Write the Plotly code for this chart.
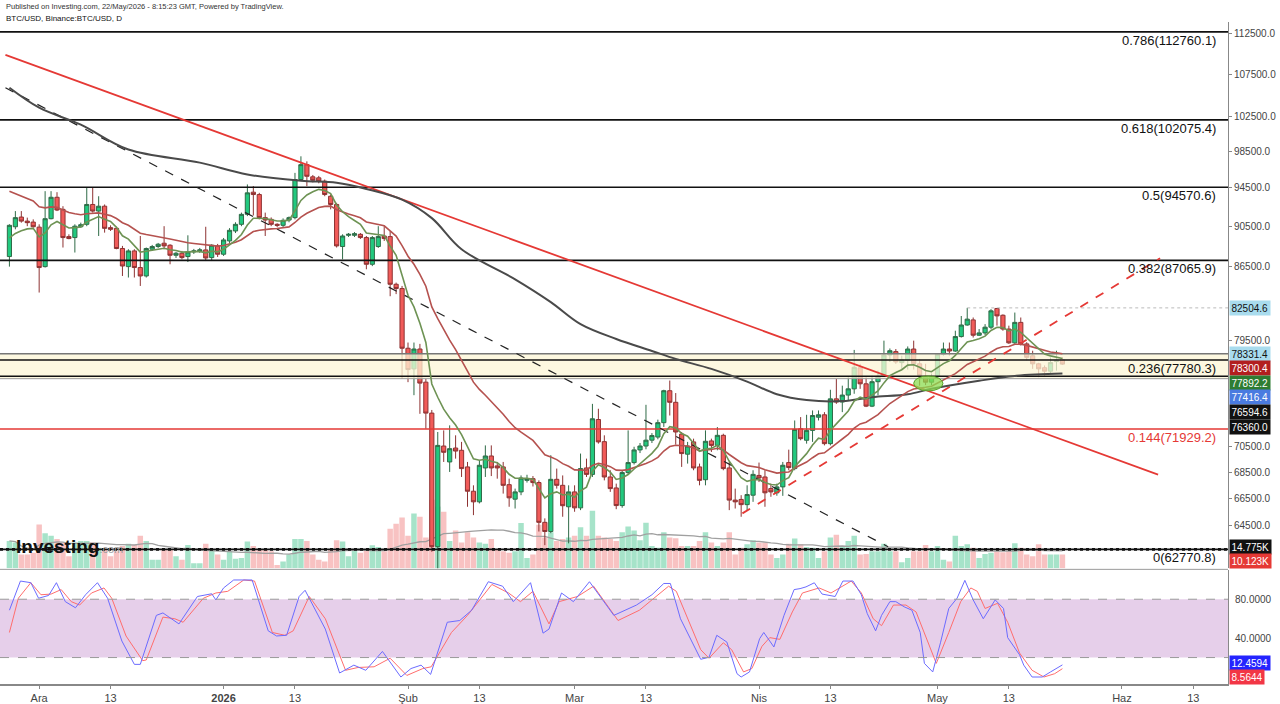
import math
import pandas as pd
import plotly.graph_objects as go

# BTC/USD daily candles, 26 Nov 2025 - 22 May 2026
dates = pd.date_range('2025-11-26', '2026-05-22', freq='D')

opens = [87440, 90440, 91440, 91020, 90920, 90400, 86450, 91270, 93510, 92240,
         89440, 89340, 90440, 90690, 92750, 92060, 92570, 90350, 90280, 88240,
         86450, 88000, 86360, 85540, 88170, 88440, 88770, 88570, 87570, 87770,
         87440, 87900, 88000, 88100, 87340, 88500, 87670, 89000, 90010, 90690,
         91720, 94050, 93800, 91380, 91200, 90690, 90590, 91130, 91380, 95410,
         97030, 95700, 95590, 95230, 93620, 92750, 88440, 89570, 89570, 89670,
         89340, 86680, 88440, 89500, 89440, 84740, 84330, 78820, 77000, 78750,
         75850, 73240, 62960, 70560, 69300, 70400, 70220, 68910, 67040, 66240,
         68830, 69770, 68990, 68910, 67540, 66440, 66990, 67870, 68000, 67700,
         64720, 64050, 67950, 67490, 65870, 66990, 65790, 68830, 68330, 72710,
         70910, 68130, 67290, 65960, 68470, 69250, 70250, 70560, 71030, 71280,
         72450, 75120, 74140, 71520, 69910, 70890, 68910, 67920, 70970, 70610,
         71420, 68830, 66370, 66420, 66030, 66740, 68250, 68130, 67240, 66920,
         67370, 69250, 68780, 71950, 71020, 71820, 72900, 73100, 70750, 74430,
         74160, 74750, 75280, 77090, 75710, 73820, 75890, 76360, 78220, 78520,
         77550, 77740, 78750, 77440, 76360, 75850, 76360, 78290, 78750, 78570,
         79870, 80920, 81390, 79990, 80200, 80720, 82450, 81820, 80550, 79300,
         81160, 79210, 78150, 77440, 77100, 76800, 77640, 77800]
highs = [90700, 92060, 92060, 91380, 91200, 90690, 94160, 94160, 94050, 92570,
         89670, 90690, 90860, 94520, 94520, 93620, 92750, 90590, 90440, 88500,
         88170, 88170, 89500, 88340, 88600, 88800, 90500, 88670, 87900, 88000,
         89570, 88200, 88300, 90440, 88670, 88700, 89300, 90300, 90900, 91900,
         94880, 94700, 93980, 91900, 91400, 90800, 91300, 91500, 96130, 97950,
         97390, 95900, 95800, 95410, 93800, 92920, 89670, 89800, 89900, 89800,
         89500, 89500, 90500, 90500, 90010, 84900, 84580, 79330, 79330, 79210,
         76130, 73500, 71690, 71820, 72230, 71420, 70890, 69300, 67490, 69430,
         70610, 70610, 69300, 69300, 68000, 67240, 68250, 68300, 68200, 67870,
         65010, 69830, 68780, 68250, 67490, 67490, 69960, 69560, 74010, 73600,
         71420, 68650, 67620, 68650, 71820, 70500, 70800, 73930, 71600, 72700,
         75200, 75990, 74920, 71690, 70890, 71150, 69170, 71820, 71150, 72090,
         71550, 69300, 67240, 66740, 67490, 68650, 69250, 68650, 67620, 67620,
         69300, 70270, 72630, 72910, 73100, 73460, 73460, 73320, 75200, 76130,
         75550, 76270, 78670, 77440, 76270, 76420, 76850, 79500, 78800, 78750,
         78160, 78980, 79500, 77870, 77440, 76600, 78320, 79330, 79330, 80400,
         81750, 82504.6, 81610, 80550, 81000, 82390, 82500, 81900, 80860, 82070,
         81610, 79360, 78600, 77530, 77300, 78010, 78600, 78010]
lows = [86450, 90180, 90860, 90500, 90350, 83950, 86360, 91200, 92060, 88340,
        89170, 87840, 90350, 90500, 91900, 89500, 89840, 90010, 88170, 85540,
        85390, 85390, 84580, 85390, 88000, 88300, 88170, 86680, 87300, 87170,
        86900, 87700, 87800, 87000, 87000, 87400, 87500, 88800, 89800, 90500,
        91540, 91600, 91200, 89500, 90500, 90400, 90400, 90900, 91200, 95300,
        94700, 95100, 95000, 93620, 92240, 88340, 87170, 89400, 89400, 89200,
        86190, 86500, 88300, 89000, 83600, 83800, 76130, 75850, 74740, 73180,
        71950, 62600, 60100, 69300, 68520, 69560, 68130, 65870, 65250, 66120,
        68130, 68200, 68000, 66860, 65870, 65740, 66740, 67700, 67400, 64050,
        63070, 63930, 67240, 65130, 63200, 65500, 65620, 68130, 68130, 70750,
        67870, 66990, 65690, 65800, 68300, 69100, 70000, 70300, 70800, 71100,
        72100, 73040, 70670, 68910, 69170, 68650, 67490, 67490, 70090, 70220,
        68650, 65620, 65740, 65130, 65620, 66240, 67740, 65870, 66620, 66700,
        66690, 68650, 68650, 71020, 70750, 70890, 72630, 70610, 70610, 74010,
        73320, 74290, 74860, 75280, 73740, 73740, 74740, 76330, 77600, 77440,
        76940, 76940, 76940, 75550, 75600, 75600, 76130, 78160, 78160, 78500,
        79780, 80860, 79780, 79930, 80000, 80550, 80860, 80400, 79210, 79210,
        79060, 77750, 77000, 76270, 76360, 76590, 76850, 77350]
closes = [90590, 91380, 91020, 90860, 90440, 86360, 91270, 93510, 92170, 89340,
          89240, 90500, 90650, 92750, 92060, 92570, 90280, 90180, 88240, 86510,
          88000, 86360, 85540, 88240, 88440, 88670, 88500, 87570, 87770, 87340,
          87900, 88000, 88100, 87300, 88570, 87670, 89100, 90080, 90690, 91720,
          93980, 93800, 91380, 91130, 90690, 90590, 91100, 91380, 95410, 97030,
          95760, 95330, 95230, 93800, 92750, 88500, 89500, 89670, 89740, 89340,
          86680, 89340, 89440, 89240, 84740, 84330, 78820, 76940, 78750, 75770,
          73240, 62960, 70610, 70060, 70350, 70160, 68780, 67040, 66240, 69040,
          69770, 68830, 68830, 67490, 66540, 66990, 68050, 68000, 67700, 64720,
          64050, 67950, 67490, 65950, 66990, 65790, 68780, 68330, 72770, 70890,
          68130, 67240, 65960, 68470, 69250, 70250, 70560, 71030, 71400, 72450,
          75120, 74140, 71690, 69960, 70560, 68830, 67870, 70940, 70610, 71420,
          68780, 66370, 66240, 66030, 66790, 68330, 68050, 66920, 66990, 67370,
          69040, 68860, 71900, 71150, 71820, 73040, 73100, 70750, 74430, 74160,
          74750, 75280, 77140, 75710, 73820, 75890, 76360, 78220, 78600, 77610,
          77790, 78750, 77440, 76420, 75850, 76360, 78290, 78750, 78570, 79870,
          80920, 81460, 79990, 80200, 80720, 82230, 81760, 80550, 79300, 81160,
          79210, 78010, 77440, 77000, 76800, 77550, 77760, 77416.4]
# volume, thousands
volumes = [20, 18.8, 10, 10, 11.3, 32, 25.5, 23.8, 21.3, 18.8,
           8.8, 18.8, 20, 20, 18.8, 15, 13.8, 8.8, 12.5, 16.3,
           18, 17, 23.8, 20, 6.3, 6.3, 13.8, 13.8, 8.8, 6.3,
           17, 3.8, 3.8, 18, 13, 10, 6.3, 12.5, 7, 7.5,
           19.5, 16.3, 13.8, 13.8, 12.5, 2.5, 5, 10, 21.3, 21.3,
           20, 10, 6.3, 5, 13.8, 20.5, 19.5, 8.8, 13.8, 11.3,
           13.8, 16.8, 15.5, 12.5, 28.8, 32.5, 37, 23.8, 40, 37.5,
           22.5, 50, 45, 41.3, 20, 27.5, 18.8, 26.3, 22.5, 18.8,
           18, 21.3, 13.8, 12.5, 11.3, 12.5, 33, 7.5, 10, 31.8,
           22.5, 26.3, 20, 21.3, 22.5, 23.8, 30, 23.8, 42, 23.8,
           22.5, 21.3, 20, 26.3, 30.5, 27.5, 20.5, 33.3, 16.3, 15,
           26.3, 22.5, 22, 16.3, 16.3, 16.3, 20, 26.3, 18.8, 16.3,
           18.8, 26.3, 10, 15, 17.5, 20.5, 18.8, 18.8, 10, 7.5,
           10, 18, 21.8, 17.5, 15.5, 15, 7.5, 12.5, 22.5, 24.5,
           16.3, 20, 23.8, 10, 10.5, 12.5, 12.5, 18, 12.5, 12.5,
           4.5, 7.5, 12.5, 12.5, 17, 12.5, 16.3, 6.3, 5, 23.8,
           16.3, 17.5, 15, 7.5, 10.5, 11.3, 12.5, 11.8, 12.5, 18.3,
           15, 10, 8.8, 17.5, 10, 10, 10, 10.123]
assert len(dates) == len(opens) == len(highs) == len(lows) == len(closes) == len(volumes)

# stochastic RSI turning points (days after 26 Nov 2025, value)
stoch_k_day = [0, 1.85, 3.6, 4.9, 6.6, 7.9, 9.4, 11.1, 12.8, 14.8, 16.5, 18.9, 21, 22,
               24.7, 25.8, 28.5, 31.6, 34, 34.7, 36, 37.7, 40.8, 43.5, 44.9, 46.6, 48.7,
               49.7, 53.1, 55.5, 57.9, 59.9, 62.7, 65.8, 67.5, 69.2, 70.8, 73.6, 75.7,
               77.7, 80.5, 82.9, 84.7, 87.6, 89.7, 90.7, 92.8, 94.8, 97.5, 101.6, 105.4,
               108, 110, 111.1, 112.8, 114.8, 116.2, 117.6, 118.9, 120.6, 122.3, 123,
               124.4, 126.1, 126.8, 128.5, 130.2, 131.9, 132.9, 133.9, 135.3, 136.6,
               138.8, 140.1, 141.8, 143.2, 144.2, 145.6, 146.6, 148, 149, 150.4, 151.7,
               153.1, 153.8, 155.2, 156.5, 157.9, 159.3, 160.6, 162, 163.7, 165.7, 167.1,
               167.8, 169.8, 170.5, 171.9, 173.6, 175, 177]
stoch_k_val = [68.7, 98.7, 97, 81, 83.9, 97, 77.5, 71.2, 84.6, 97, 81, 37, 13, 13,
               63.4, 65.9, 54.6, 82.8, 85.6, 79.3, 91.6, 99.8, 99.8, 47.5, 42.2, 42.9, 82.8,
               89.2, 49.3, 4.1, 12.2, 6.9, 26.3, 0, 8.7, 12.2, 2.7, 56.3, 58.1,
               68.7, 98, 93.4, 77.5, 97, 45.1, 49.3, 86.4, 77.5, 98, 63.4, 74,
               84.6, 96.2, 96.2, 59.9, 35.2, 18.2, 20.3, 42.9, 35.9, 3.4, 0,
               5.2, 39.4, 45.8, 30.9, 63.4, 89.9, 90.9, 92.7, 96.9, 85.3,
               82.8, 98.7, 98.7, 84.6, 65.2, 47.5, 63.4, 77.5, 77.5, 72.2, 68.7,
               45.8, 14, 5.2, 35.2, 70.5, 81.1, 99.4, 79.3, 59.9, 79.3, 70.5,
               40.5, 22.8, 12.2, 0, 0, 5.2, 12.4594]
stoch_d_day = [0, 1.5, 3.6, 5.3, 7, 8.7, 10.4, 11.8, 13.8, 15.9, 17.2, 19.6, 22.4, 23,
               25.8, 27.8, 29.2, 32.6, 34.7, 36.7, 39.4, 41.2, 44.2, 46.3, 47.7, 50.4,
               53.1, 56.5, 58.6, 61.3, 64, 66.8, 69.5, 70.9, 74.3, 77, 81.1, 83.9, 85.9,
               88, 90.7, 92.4, 95.5, 98.2, 102.3, 105.9, 108, 110.8, 112.1, 114.1, 116.2,
               117.6, 120, 121.4, 123.4, 124.8, 126.5, 127.8, 129.5, 131.6, 133.3, 136.1,
               138.1, 141.5, 143.2, 145.2, 146.6, 148.6, 150.7, 152.4, 154.4, 155.8,
               157.9, 159.9, 161.6, 162.7, 164, 166.1, 167.8, 169.8, 171.9, 173.9, 175.7,
               177]
stoch_d_val = [45.8, 81, 97, 84.6, 85.3, 89.9, 77.5, 74, 86.4, 91.6, 81, 42.2, 16.8, 17.5,
               61.6, 59.9, 56.3, 81, 86.4, 88.1, 99.8, 98.7, 45.8, 42.9, 47.5, 82.8,
               59.9, 6.9, 9.8, 10.5, 19.3, 1.6, 8.7, 10.5, 45.8, 63.4, 95.2, 86.4, 77.5,
               88.1, 54.6, 77.5, 82.8, 93.4, 58.1, 68.7, 79.3, 93.4, 88.1, 58.1, 28.1,
               19.3, 35.2, 28.1, 5.2, 8.7, 31.6, 40.5, 38.7, 66.9, 86.4, 91.6,
               86.4, 98.7, 86.4, 59.9, 52.8, 74, 74, 66.9, 35.2, 14,
               45.8, 77.5, 91.6, 88.1, 70.5, 75.8, 56.3, 24.6, 6.9, 0, 3.4,
               8.5644]

fast_ma_start = 89300
slow_ma_start = 94160
long_ma_dates = ['2025-11-26', '2025-12-01', '2025-12-08', '2025-12-16', '2025-12-28',
                 '2026-01-05', '2026-01-14', '2026-01-20', '2026-01-25', '2026-01-31',
                 '2026-02-05', '2026-02-10', '2026-02-19', '2026-02-25', '2026-03-02',
                 '2026-03-08', '2026-03-14', '2026-03-18', '2026-03-24', '2026-03-30',
                 '2026-04-04', '2026-04-09', '2026-04-15', '2026-04-20', '2026-04-26',
                 '2026-04-30', '2026-05-08', '2026-05-14', '2026-05-22']
long_ma_values = [105850, 103490, 101520, 98700, 97250, 95950, 95280, 95060, 94400, 93260,
                  91330, 88170, 85220, 83050, 81000, 79650, 78580, 77870, 77000, 75900,
                  74820, 74330, 74240, 74570, 74820, 75280, 75970, 76390, 76594.6]

# fibonacci levels
fib_ratios = ['0.786', '0.618', '0.5', '0.382', '0.236', '0.144', '0']
fib_prices = [112760.1, 102075.4, 94570.6, 87065.9, 77780.3, 71929.2, 62770.8]

# support zone
zone_top = 78331.4
zone_bottom = 76150
zone_support = 76360.0

# trend lines
red_line_dates = ['2025-11-25 08:00', '2026-06-07 02:00']
red_line_prices = [109860, 68310]
red_dash_dates = ['2026-03-29 05:00', '2026-06-07 10:00']
red_dash_prices = [65380, 87270]
black_dash_dates = ['2025-11-25 08:00', '2026-04-22 17:00']
black_dash_prices = [105850, 62950]
peak_date = '2026-05-06'
peak_price = 82504.6

# right-hand price tags
tag_texts = ['82504.6', '78331.4', '78300.4', '77892.2', '77416.4', '76594.6', '76360.0']
tag_bg = ['#a9dcee', '#a9dcee', '#b21f1f', '#2e7d32', '#4a7be0', '#111111', '#111111']
tag_fg = ['#111', '#111', 'white', 'white', 'white', 'white', 'white']

price_ticks = [64500, 66500, 68500, 70500, 79500, 86500, 90500, 94500, 98500, 102500, 107500, 112500]
date_ticks = ['2025-12-01', '2025-12-13', '2026-01-01', '2026-01-13', '2026-02-01', '2026-02-13',
              '2026-03-01', '2026-03-13', '2026-04-01', '2026-04-13', '2026-05-01', '2026-05-13',
              '2026-06-01', '2026-06-13']
date_labels = ['Ara', '13', '<b>2026</b>', '13', 'Şub', '13', 'Mar', '13', 'Nis', '13',
               'May', '13', 'Haz', '13']

FONT = 'Liberation Sans'
TOP, BOTTOM = 22, 686


def py(ypx):
    return (BOTTOM - ypx) / (BOTTOM - TOP)


def ema(values, n, start):
    a = 2 / (n + 1)
    out = [start]
    for v in values[1:]:
        out.append(a * v + (1 - a) * out[-1])
    return out


fast_ma = ema(closes, 8, fast_ma_start)
slow_ma = ema(closes, 21, slow_ma_start)

vol_ma = pd.Series(volumes).rolling(20, min_periods=1).mean()

start = pd.Timestamp('2025-11-26')
stoch_k_x = [start + pd.to_timedelta(d, unit='D') for d in stoch_k_day]
stoch_d_x = [start + pd.to_timedelta(d, unit='D') for d in stoch_d_day]

x_left = '2025-11-24 10:00'
x_right = '2026-06-18 20:00'

up = [c >= o for o, c in zip(opens, closes)]
vol_colors = ['#a6e3c9' if u else '#f8c2c2' for u in up]

fig = go.Figure()

# volume (base axis, drawn under price)
fig.add_trace(go.Bar(x=dates, y=volumes, marker_color=vol_colors, marker_line_width=0,
                     width=86400000 * 0.92, yaxis='y', xaxis='x'))
fig.add_trace(go.Scatter(x=dates, y=vol_ma, mode='lines', line=dict(color='#a0a0a0', width=1.3),
                         yaxis='y', xaxis='x'))

# support zone
fig.add_trace(go.Scatter(x=[x_left, x_right], y=[zone_bottom, zone_bottom], mode='lines',
                         line=dict(color='#9a9a9a', width=1), yaxis='y2', xaxis='x'))
fig.add_trace(go.Scatter(x=[x_left, x_right], y=[zone_top, zone_top], mode='lines',
                         line=dict(color='#777777', width=1.5), fill='tonexty',
                         fillcolor='rgba(252,246,214,0.75)', yaxis='y2', xaxis='x'))
fig.add_trace(go.Scatter(x=[x_left, x_right], y=[zone_support, zone_support], mode='lines',
                         line=dict(color='#111111', width=1.6), yaxis='y2', xaxis='x'))

# fibonacci lines
for r, p in zip(fib_ratios, fib_prices):
    color = '#e53935' if r == '0.144' else '#111111'
    fig.add_trace(go.Scatter(x=[x_left, x_right], y=[p, p], mode='lines',
                             line=dict(color=color, width=1.6), yaxis='y2', xaxis='x'))
fig.add_trace(go.Scatter(x=[x_left, x_right], y=[fib_prices[-1], fib_prices[-1]], mode='lines',
                         line=dict(color='#111111', width=2.6, dash='dot'), yaxis='y2', xaxis='x'))

fig.add_trace(go.Scatter(x=[peak_date, x_right], y=[peak_price, peak_price], mode='lines',
                         line=dict(color='#bbbbbb', width=1, dash='dot'), yaxis='y2', xaxis='x'))

# trend lines
fig.add_trace(go.Scatter(x=black_dash_dates, y=black_dash_prices, mode='lines',
                         line=dict(color='#222222', width=1.2, dash='dash'), yaxis='y2', xaxis='x'))
fig.add_trace(go.Scatter(x=red_line_dates, y=red_line_prices, mode='lines',
                         line=dict(color='#e53935', width=1.8), yaxis='y2', xaxis='x'))
fig.add_trace(go.Scatter(x=red_dash_dates, y=red_dash_prices, mode='lines',
                         line=dict(color='#e53935', width=1.8, dash='dash'), yaxis='y2', xaxis='x'))

# moving averages
fig.add_trace(go.Scatter(x=long_ma_dates, y=long_ma_values, mode='lines',
                         line=dict(color='#4a4a4a', width=2, shape='spline'), yaxis='y2', xaxis='x'))
fig.add_trace(go.Scatter(x=dates, y=slow_ma, mode='lines',
                         line=dict(color='#b5524f', width=1.6), yaxis='y2', xaxis='x'))
fig.add_trace(go.Scatter(x=dates, y=fast_ma, mode='lines',
                         line=dict(color='#6e9354', width=1.6), yaxis='y2', xaxis='x'))

# candles
fig.add_trace(go.Candlestick(
    x=dates, open=opens, high=highs, low=lows, close=closes, yaxis='y2', xaxis='x',
    increasing=dict(line=dict(color='#2f6b47', width=1), fillcolor='#22c97f'),
    decreasing=dict(line=dict(color='#8e3232', width=1), fillcolor='#f15b59'),
    whiskerwidth=0))

# stochastic RSI
fig.add_trace(go.Scatter(x=stoch_d_x, y=stoch_d_val, mode='lines', line=dict(color='#ff6d6d', width=1),
                         yaxis='y3', xaxis='x2'))
fig.add_trace(go.Scatter(x=stoch_k_x, y=stoch_k_val, mode='lines', line=dict(color='#6b6bff', width=1),
                         yaxis='y3', xaxis='x2'))

shapes = [
    dict(type='rect', xref='paper', yref='y3', x0=0, x1=1, y0=20, y1=80,
         fillcolor='rgba(190,130,200,0.38)', line=dict(width=0), layer='below'),
    dict(type='line', xref='paper', yref='y3', x0=0, x1=1, y0=80, y1=80,
         line=dict(color='#9a9a9a', width=1, dash='dash')),
    dict(type='line', xref='paper', yref='y3', x0=0, x1=1, y0=20, y1=20,
         line=dict(color='#9a9a9a', width=1, dash='dash')),
    dict(type='line', xref='paper', yref='paper', x0=0, x1=1, y0=py(571), y1=py(571),
         line=dict(color='#9a9a9a', width=1)),
    # highlighted bounce
    dict(type='circle', xref='x', yref='paper', x0='2026-04-27 00:00', x1='2026-05-01 22:00',
         y0=py(392), y1=py(377), fillcolor='rgba(140,220,80,0.75)', line=dict(color='#5aa02c', width=1)),
]

annotations = [
    dict(text='Published on Investing.com, 22/May/2026 - 8:15:23 GMT, Powered by TradingView.',
         xref='paper', yref='paper', x=0.003, y=py(6), xanchor='left', yanchor='middle',
         showarrow=False, font=dict(family=FONT, size=7.5, color='#333')),
    dict(text='BTC/USD, Binance:BTC/USD, D', xref='paper', yref='paper', x=0.003, y=py(18),
         xanchor='left', yanchor='middle', showarrow=False,
         font=dict(family=FONT, size=8, color='#111')),
    dict(text="<b>Investing</b><span style='font-size:11px;color:#9a9a9a'>.com</span>",
         xref='paper', yref='paper', x=0.011, y=py(548), xanchor='left', yanchor='middle',
         showarrow=False, font=dict(family=FONT, size=19, color='#111')),
]

for r, p in zip(fib_ratios, fib_prices):
    color = '#e53935' if r == '0.144' else '#111111'
    annotations.append(dict(text=f'{r}({p:.1f})', xref='paper', yref='y2', x=0.992,
                            y=math.log10(p), xanchor='right', yanchor='top', yshift=1,
                            showarrow=False, font=dict(family=FONT, size=13, color=color)))

tag_rows = [309, 355, 369, 384, 398, 413, 428]
for t, bg, fg, yp in zip(tag_texts, tag_bg, tag_fg, tag_rows):
    annotations.append(dict(text=t, xref='paper', yref='paper', x=1, y=py(yp), xanchor='left',
                            yanchor='middle', xshift=1, showarrow=False, bgcolor=bg, borderpad=1.5,
                            font=dict(family=FONT, size=10, color=fg)))

side_tags = [('14.775K', '#111111', 549), ('10.123K', '#e53935', 563),
             ('12.4594', '#2424ff', 665), ('8.5644', '#f23645', 679)]
for t, bg, yp in side_tags:
    annotations.append(dict(text=t, xref='paper', yref='paper', x=1, y=py(yp), xanchor='left',
                            yanchor='middle', xshift=1, showarrow=False, bgcolor=bg, borderpad=1.5,
                            font=dict(family=FONT, size=10, color='white')))

annotations.append(dict(text='80.0000', xref='paper', yref='y3', x=1, y=80, xanchor='left',
                        xshift=5, showarrow=False, font=dict(family=FONT, size=10, color='#444')))
annotations.append(dict(text='40.0000', xref='paper', yref='y3', x=1, y=40, xanchor='left',
                        xshift=5, showarrow=False, font=dict(family=FONT, size=10, color='#444')))

fig.update_layout(
    width=1280, height=704,
    margin=dict(l=0, r=52, t=TOP, b=704 - BOTTOM),
    paper_bgcolor='white', plot_bgcolor='white',
    showlegend=False,
    boxgap=0.2, boxgroupgap=0.12,
    font=dict(family=FONT, size=10, color='#444'),
    xaxis=dict(type='date', range=[x_left, x_right], showticklabels=False, showgrid=False,
               zeroline=False, rangeslider=dict(visible=False), anchor='y'),
    xaxis2=dict(type='date', range=[x_left, x_right], matches='x', anchor='y3',
                tickvals=date_ticks, ticktext=date_labels, showgrid=False, zeroline=False,
                showline=True, linecolor='#888', linewidth=1.5, ticks='outside', ticklen=3,
                tickcolor='#888', tickfont=dict(family=FONT, size=11, color='#444')),
    yaxis=dict(domain=[py(570), 1], range=[0, 398], visible=False),
    yaxis2=dict(domain=[py(570), 1], overlaying='y', side='right', type='log',
                range=[math.log10(61435), math.log10(114034)], tickvals=price_ticks,
                ticktext=[f'{v:.1f}' for v in price_ticks], showgrid=False, zeroline=False,
                showline=True, linecolor='#888', ticks='outside', ticklen=3, tickcolor='#888',
                tickfont=dict(family=FONT, size=10, color='#444'), anchor='x'),
    yaxis3=dict(domain=[0, py(572)], range=[-7.2, 109.7], side='right', showticklabels=False,
                showgrid=False, zeroline=False, showline=True, linecolor='#888', anchor='x2'),
    shapes=shapes,
    annotations=annotations,
)

fig.write_html('out.html', config={'displayModeBar': False},
               post_script="document.body.style.margin='0';")
